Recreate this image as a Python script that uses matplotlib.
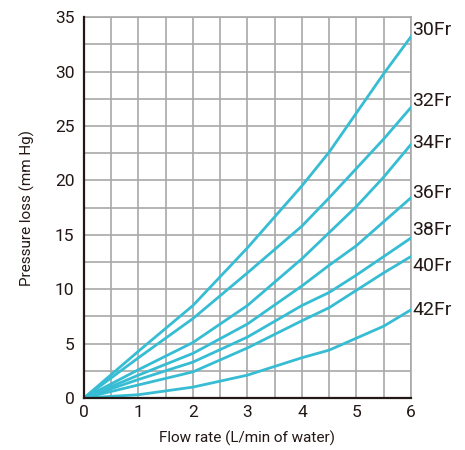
import numpy as np
import matplotlib
matplotlib.use('Agg')
import matplotlib.pyplot as plt

plt.rcParams['font.family'] = ['Roboto', 'DejaVu Sans']

# flow rate (L/min) and pressure loss (mm Hg)
flow = [0, 1, 2, 3, 4, 4.5, 5, 5.5, 6]
fr30 = [0, 4.3, 8.5, 13.8, 19.5, 22.6, 26.2, 29.8, 33.2]
fr32 = [0, 3.7, 7.3, 11.5, 15.8, 18.4, 21.1, 23.8, 26.7]
fr34 = [0, 2.6, 5.1, 8.5, 12.8, 15.2, 17.6, 20.3, 23.3]
fr36 = [0, 2.1, 4.1, 6.8, 10.3, 12.2, 14.0, 16.2, 18.4]
fr38 = [0, 1.7, 3.3, 5.6, 8.5, 9.7, 11.3, 13.0, 14.7]
fr40 = [0, 1.2, 2.4, 4.6, 7.1, 8.3, 9.9, 11.5, 13.0]
fr42 = [0, 0.3, 1.0, 2.1, 3.7, 4.4, 5.5, 6.6, 8.1]
sizes = ['30Fr', '32Fr', '34Fr', '36Fr', '38Fr', '40Fr', '42Fr']
curves = [fr30, fr32, fr34, fr36, fr38, fr40, fr42]
label_y = [33.8, 27.3, 23.4, 18.8, 15.4, 12.1, 8.1]  # where the end labels sit

line_col = '#36bdd3'
txt_col = '#231815'

fig = plt.figure(figsize=(4.65, 4.5), dpi=100)
ax = fig.add_axes([0.1806, 0.1156, 0.7032, 0.8464])

for c, name, ly in zip(curves, sizes, label_y):
    ax.plot(flow, c, color=line_col, lw=2.0, solid_joinstyle='round', zorder=3)
    ax.text(6.03, ly, name, fontsize=14, color=txt_col, va='center', ha='left')

ax.set_xlim(0, 6)
ax.set_ylim(0, 35)
ax.set_xticks(range(0, 7))
ax.set_yticks(range(0, 36, 5))
ax.set_xticks(np.arange(0, 6.01, 0.5), minor=True)
ax.set_yticks(np.arange(0, 35.01, 2.5), minor=True)
ax.grid(which='both', color='#a8a8a8', lw=1.2, zorder=1)
ax.tick_params(which='both', length=0)
ax.tick_params(axis='y', labelsize=12.5, pad=7, colors=txt_col)
ax.tick_params(axis='x', labelsize=12.5, pad=5, colors=txt_col)

for s in ['top', 'right']:
    ax.spines[s].set_color('#a8a8a8')
    ax.spines[s].set_linewidth(1.2)
for s in ['left', 'bottom']:
    ax.spines[s].set_color(txt_col)
    ax.spines[s].set_linewidth(1.6)
    ax.spines[s].set_zorder(4)

ax.set_xlabel('Flow rate (L/min of water)', fontsize=11, color=txt_col, labelpad=8)
ax.set_ylabel('Pressure loss (mm Hg)', fontsize=11, color=txt_col, labelpad=14)

plt.savefig('out.png', dpi=100)
